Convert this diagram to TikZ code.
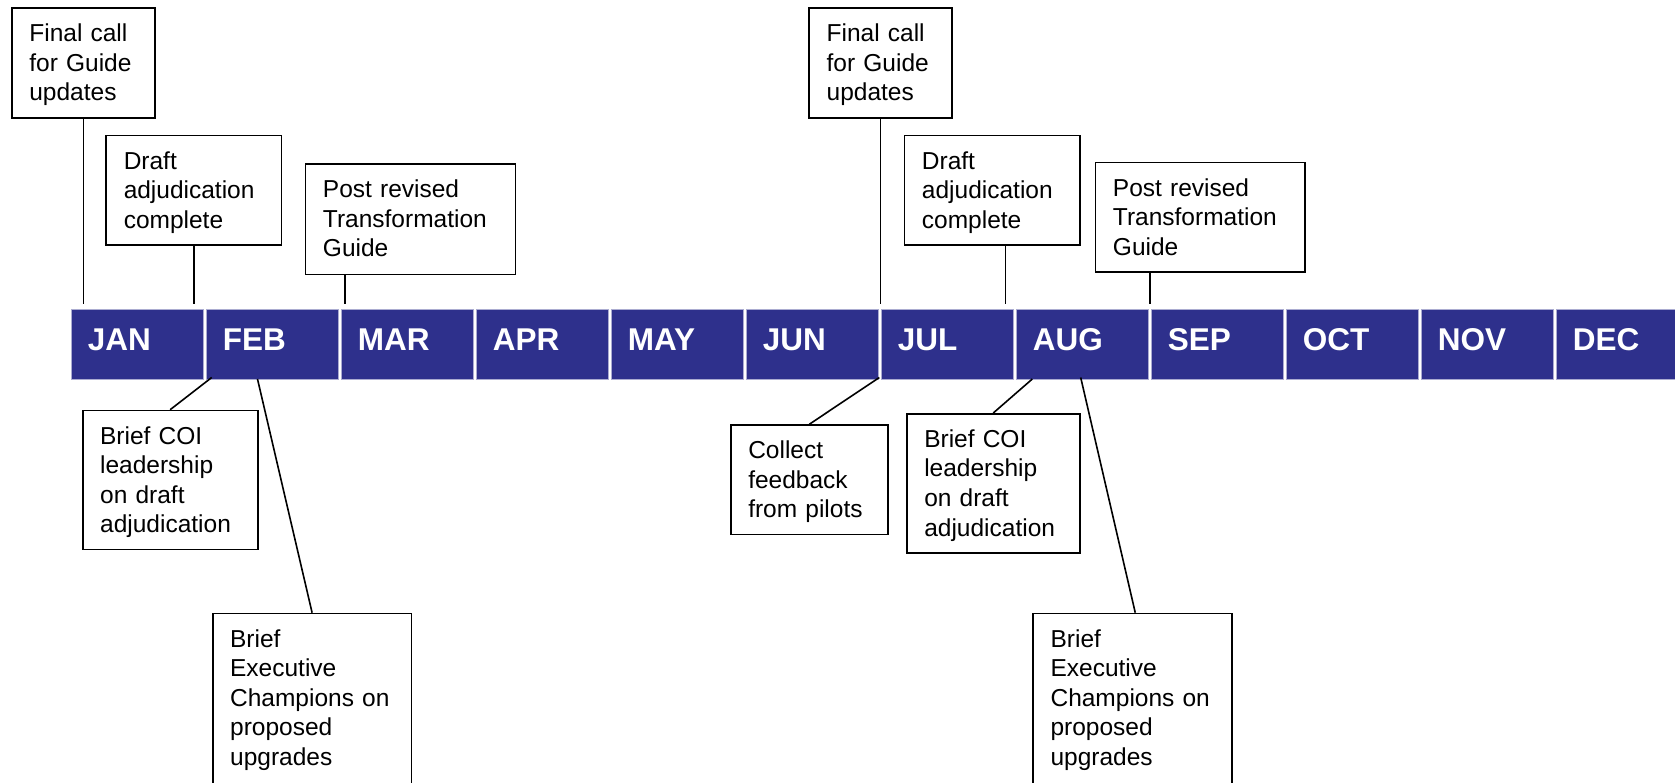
\documentclass[tikz,border=0pt]{standalone}
\usepackage{fontspec}
\setmainfont{Liberation Sans}
\definecolor{barblue}{RGB}{46,48,140}
\begin{document}
\begin{tikzpicture}[x=1pt,y=-1pt,
  evt/.style 2 args={draw=black, line width=1.7pt, anchor=north west, align=left,
    inner xsep=17.5pt, inner ysep=0pt, text width=#1pt, text height=33.5pt, text depth=#2pt,
    font=\fontsize{24.5pt}{29.6pt}\selectfont},
  mon/.style={fill=barblue, draw=barblue!40, line width=0.8pt, anchor=north west, text=white,
    inner xsep=17pt, inner ysep=0pt, text width=98.3pt, text height=41pt, text depth=29pt,
    align=left, font=\fontsize{31.5pt}{31.5pt}\selectfont\bfseries},
  link/.style={draw=black, line width=1.6pt}]
\useasboundingbox[fill=white] (0,0) rectangle (1675,782);

% month bar
\foreach \m [count=\i from 0] in {JAN,FEB,MAR,APR,MAY,JUN,JUL,AUG,SEP,OCT,NOV,DEC}
  \node[mon] (\m) at ({70.5+135*\i},309) {\m};

% upper boxes
\node[evt={108.3}{76.5}] (a1) at (11,7.3) {Final call\\for Guide\\updates};
\node[evt={140.3}{76.1}] (a2) at (105.4,134.7) {Draft\\adjudication\\complete};
\node[evt={175}{76.9}] (a3) at (304.6,163.3) {Post revised\\Transformation\\Guide};
\node[evt={107.7}{76.5}] (c1) at (808.3,7.3) {Final call\\for Guide\\updates};
\node[evt={140.3}{76.1}] (c2) at (903.6,134.7) {Draft\\adjudication\\complete};
\node[evt={174.7}{76.1}] (c3) at (1094.6,161.7) {Post revised\\Transformation\\Guide};

% lower boxes
\node[evt={140}{105.5}] (b1) at (81.8,409.7) {Brief COI\\leadership\\on draft\\adjudication};
\node[evt={163.9}{186.5}] (b2) at (211.8,612.7) {Brief\\Executive\\Champions on\\proposed\\upgrades};
\node[evt={122}{75.9}] (d1) at (729.9,424.3) {Collect\\feedback\\from pilots};
\node[evt={138}{105.5}] (d2) at (905.9,413) {Brief COI\\leadership\\on draft\\adjudication};
\node[evt={164}{186.5}] (d3) at (1032.2,612.7) {Brief\\Executive\\Champions on\\proposed\\upgrades};

% connector ends
\coordinate (upy) at (0,304);
\coordinate (ta1) at (a1.south |- upy);
\coordinate (ta2) at (a2.south |- upy);
\coordinate (ta3) at (345,304);
\coordinate (tc1) at (c1.south |- upy);
\coordinate (tc2) at (1005.4,304);
\coordinate (tc3) at (1149.7,304);
\coordinate (bb1) at (211.7,377.5);
\coordinate (bb2) at (257.5,379);
\coordinate (bd1) at (879.3,377.5);
\coordinate (bd2) at (1032.3,379);
\coordinate (bd3) at (1080.7,377.5);

\draw[link] (a1.south) -- (ta1);
\draw[link] (a2.south) -- (ta2);
\draw[link] (a3.south -| ta3) -- (ta3);
\draw[link] (c1.south) -- (tc1);
\draw[link] (c2.south -| tc2) -- (tc2);
\draw[link] (c3.south -| tc3) -- (tc3);
\draw[link] (bb1) -- (b1.north);
\draw[link] (bb2) -- (b2.north);
\draw[link] (bd1) -- (d1.north);
\draw[link] (bd2) -- (d2.north);
\draw[link] (bd3) -- ([xshift=2.7pt]d3.north);
\end{tikzpicture}
\end{document}
